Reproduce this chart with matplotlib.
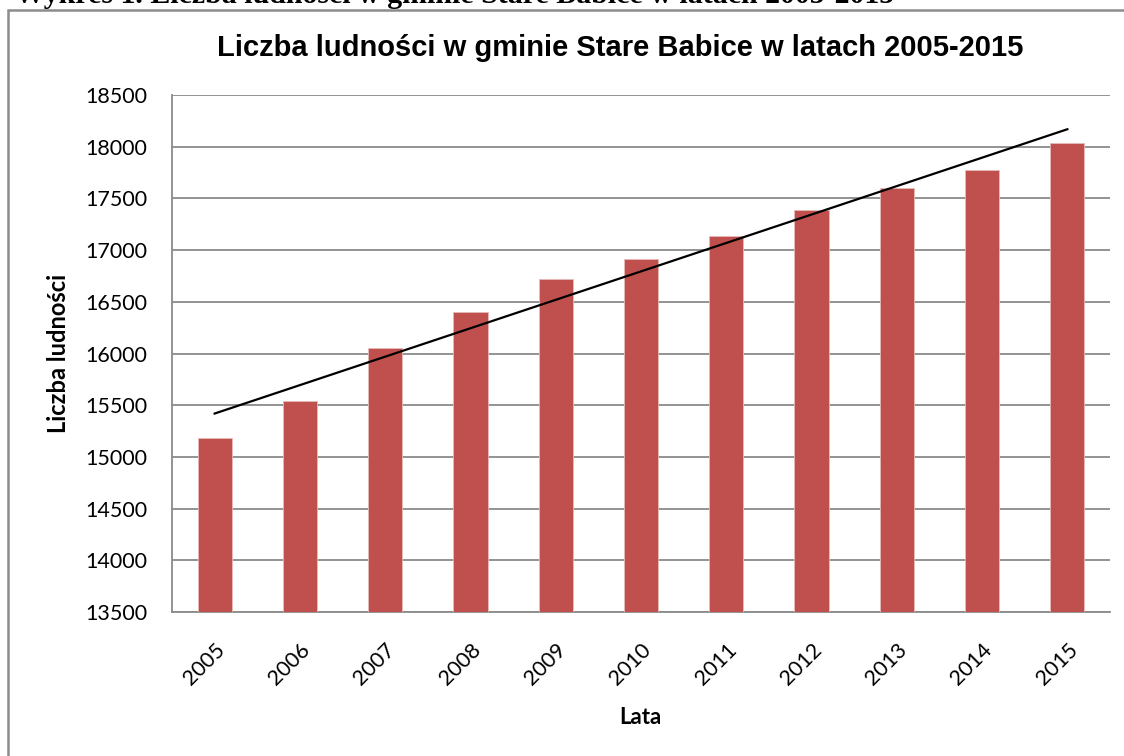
import numpy as np
import matplotlib
matplotlib.use('Agg')
import matplotlib.pyplot as plt
from matplotlib.patches import Rectangle

years = ['2005', '2006', '2007', '2008', '2009', '2010', '2011', '2012', '2013', '2014', '2015']
population = [15180, 15540, 16050, 16400, 16720, 16910, 17140, 17390, 17600, 17770, 18035]

W, H = 1124, 756
fig = plt.figure(figsize=(W / 100, H / 100), dpi=100)

# caption of the document, cut off at the top edge
fig.text(15 / W, 1 - 3 / H,
         'Wykres 1. Liczba ludności w gminie Stare Babice w latach 2005-2015',
         family='Liberation Serif', weight='bold', size=21.5, va='baseline', ha='left')

# chart frame
fig.patches.append(Rectangle((8 / W, -0.01), 1.1, 1 - 10 / H + 0.01,
                             transform=fig.transFigure, fill=False,
                             edgecolor='#8c8c8c', linewidth=1.8))

ax = fig.add_axes([172 / W, 1 - 612 / H, (1110 - 172) / W, (612 - 95) / H])

x = np.arange(len(years))
ax.bar(x, population, width=0.4, color='#C0504D', edgecolor='#e6b9b8', linewidth=0.6, zorder=3)

k, b = np.polyfit(x, population, 1)
ax.plot(x, k * x + b, color='black', linewidth=1.6, zorder=4)

ax.set_xlim(-0.5, len(years) - 0.5)
ax.set_ylim(13500, 18500)
ax.set_yticks(np.arange(13500, 18501, 500))
ax.yaxis.grid(True, color='#8a8a8a', linewidth=1.3, zorder=0)
ax.set_axisbelow(True)

ax.set_xticks(x)
ax.set_xticklabels(years, rotation=45, ha='right', rotation_mode='anchor')
for lab in ax.get_xticklabels() + ax.get_yticklabels():
    lab.set_family('Lato')
    lab.set_fontsize(15.5)

for s in ['top', 'right']:
    ax.spines[s].set_visible(False)
for s in ['left', 'bottom']:
    ax.spines[s].set_color('#8a8a8a')
    ax.spines[s].set_linewidth(1.3)
ax.tick_params(axis='y', length=0, pad=18)
ax.tick_params(axis='x', length=0, pad=20)

fig.text(620 / W, 1 - 48 / H, 'Liczba ludności w gminie Stare Babice w latach 2005-2015',
         family='Liberation Sans', weight='bold', size=21, ha='center', va='center')
fig.text(59 / W, 1 - 353 / H, 'Liczba ludności', family='Lato', weight='bold', size=17,
         rotation=90, ha='center', va='center')
fig.text(640 / W, 1 - 717 / H, 'Lata', family='Lato', weight='bold', size=16,
         ha='center', va='center')

fig.savefig('out.png', dpi=100)
